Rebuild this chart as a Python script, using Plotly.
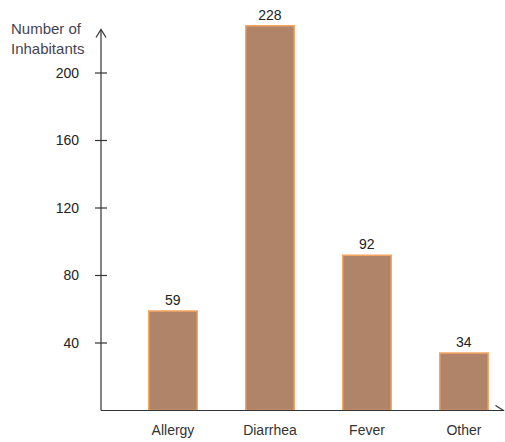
import plotly.graph_objects as go

# Reported cases per illness
categories = ["Allergy", "Diarrhea", "Fever", "Other"]
inhabitants = [59, 228, 92, 34]
y_ticks = [40, 80, 120, 160, 200]

W, H = 505, 442
M_L, M_R, M_T, M_B = 80, 0, 10, 31
PX_X = 97.0                     # pixels per category step
PX_Y = 1.6875                   # pixels per inhabitant
AXIS_X = -0.742                 # where the vertical axis sits
X_MIN = AXIS_X - 21 / PX_X
X_MAX = X_MIN + (W - M_L - M_R) / PX_X
Y_MAX = (H - M_T - M_B) / PX_Y

fig = go.Figure()
fig.add_trace(go.Bar(
    x=list(range(len(categories))),
    y=inhabitants,
    width=0.5,
    marker=dict(color="#B08468", line=dict(color="#F5A560", width=1.5)),
    text=[str(v) for v in inhabitants],
    textposition="outside",
    cliponaxis=False,
    textfont=dict(family="Liberation Sans, Arial, sans-serif", size=14, color="#222222"),
))

axis_color = "#333333"
line_style = dict(color=axis_color, width=1.2)


def px_x(p):
    return p / PX_X


def px_y(p):
    return p / PX_Y


shapes = []
# vertical axis with open arrowhead
y_tip = px_y(H - M_B - 30)
shapes.append(dict(type="line", xref="x", yref="y", x0=AXIS_X, x1=AXIS_X, y0=0, y1=y_tip,
                   line=line_style))
shapes.append(dict(type="path", xref="x", yref="y", line=line_style,
                   path=f"M {AXIS_X - px_x(5)},{y_tip - px_y(8)} L {AXIS_X},{y_tip} "
                        f"L {AXIS_X + px_x(5)},{y_tip - px_y(8)}"))
# horizontal axis with open arrowhead
x_tip = X_MAX - px_x(1.5)
shapes.append(dict(type="line", xref="x", yref="y", x0=AXIS_X, x1=x_tip, y0=0, y1=0,
                   line=line_style))
shapes.append(dict(type="path", xref="x", yref="y", line=line_style,
                   path=f"M {x_tip - px_x(8)},{px_y(5)} L {x_tip},0 "
                        f"L {x_tip - px_x(8)},{-px_y(5)}"))
# tick marks crossing the vertical axis
for t in y_ticks:
    shapes.append(dict(type="line", xref="x", yref="y",
                       x0=AXIS_X - px_x(6), x1=AXIS_X + px_x(6), y0=t, y1=t,
                       line=line_style))

fig.update_layout(
    width=W, height=H,
    margin=dict(l=M_L, r=M_R, t=M_T, b=M_B),
    paper_bgcolor="white", plot_bgcolor="white",
    showlegend=False,
    shapes=shapes,
    font=dict(family="Liberation Sans, Arial, sans-serif", size=14, color="#222222"),
    xaxis=dict(
        range=[X_MIN, X_MAX],
        tickmode="array", tickvals=list(range(len(categories))), ticktext=categories,
        showline=False, showgrid=False, zeroline=False, ticks="",
        ticklabelstandoff=9,
        tickfont=dict(size=14, color="#333333"),
    ),
    yaxis=dict(
        range=[-px_y(0.5), Y_MAX - px_y(0.5)],
        tickmode="array", tickvals=y_ticks,
        showline=False, showgrid=False, zeroline=False, ticks="",
        ticklabelstandoff=0,
        tickfont=dict(size=14, color="#222222"),
    ),
    annotations=[dict(
        text="Number of<br>Inhabitants", xref="paper", yref="paper",
        x=6 / (W - M_L - M_R), y=1.0, xanchor="right", yanchor="top", yshift=-8,
        showarrow=False, align="left",
        font=dict(size=15, color="#444455"),
    )],
)

fig.write_html("out.html")
